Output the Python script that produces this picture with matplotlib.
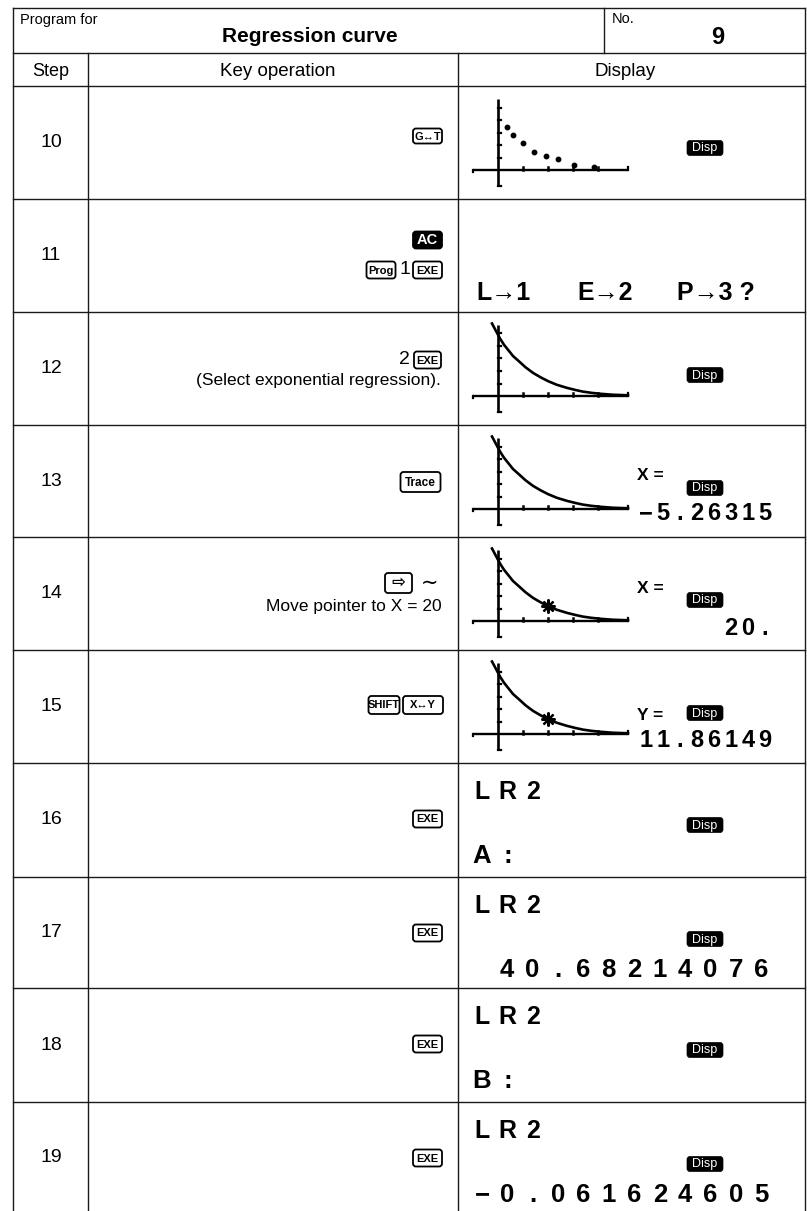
import matplotlib.pyplot as plt
from matplotlib.patches import FancyBboxPatch

plt.rcParams['font.family'] = ['Liberation Sans', 'DejaVu Sans']

W, H = 807, 1211

steps = ['10', '11', '12', '13', '14', '15', '16', '17', '18', '19']
row_edges = [86, 199, 312, 425, 537, 650, 763, 877, 988, 1102, 1215]

# step 10: data points on the screen (graph units, 10 per tick)
dot_x = [3.6, 6.0, 10.0, 14.4, 19.2, 24.0, 30.4, 38.4]
dot_y = [34.4, 28.0, 21.6, 14.4, 11.2, 8.8, 4.0, 2.4]
# exponential regression curve as drawn on the screen
curve_x = [-2.4, -0.8, 0.8, 2.4, 4.0, 6.0, 8.8, 11.0, 14.0, 17.0, 20.0,
           23.5, 27.6, 31.0, 34.0, 37.5, 40.8, 46.0, 52.0]
curve_y = [58.0, 52.0, 46.0, 41.0, 37.0, 32.0, 27.0, 23.0, 18.5, 15.0, 11.9,
           9.0, 6.5, 4.8, 3.5, 2.5, 1.8, 1.0, 0.6]
trace_x, trace_y = 20, 11.86149
x_ticks = [10, 20, 30, 40]
y_ticks = [10, 20, 30, 40, 50]

menu = ['L→1', 'E→2', 'P→3 ?']
trace_vals = ['−5.26315', '20.', '11.86149']
lr_vals = ['A:', '40.68214076', 'B:', '−0.061624605']

fig = plt.figure(figsize=(W / 100, H / 100), dpi=100)
ax = fig.add_axes([0, 0, 1, 1])
ax.set_xlim(0, W)
ax.set_ylim(H, 0)
ax.axis('off')

lc = '#1a1a1a'
lw = 1.0
L, R = 13, 805
ax.plot([L, R], [8, 8], color=lc, lw=lw)
ax.plot([L, L], [8, H], color=lc, lw=lw)
ax.plot([R, R], [8, H], color=lc, lw=lw)
for y in [53] + row_edges[:-1]:
    ax.plot([L, R], [y, y], color=lc, lw=lw)
ax.plot([88, 88], [53, H], color=lc, lw=lw)
ax.plot([458, 458], [53, H], color=lc, lw=lw)
ax.plot([604, 604], [8, 53], color=lc, lw=lw)

ax.text(20, 20, 'Program for', fontsize=10.5, va='center')
ax.text(310, 36, 'Regression curve', fontsize=15, fontweight='bold', ha='center', va='center')
ax.text(612, 19, 'No.', fontsize=10.5, va='center')
ax.text(718, 37, '9', fontsize=17, fontweight='bold', ha='center', va='center')
ax.text(51, 71, 'Step', fontsize=13, ha='center', va='center')
ax.text(278, 71, 'Key operation', fontsize=13.5, ha='center', va='center')
ax.text(625, 71, 'Display', fontsize=13.5, ha='center', va='center')


def key(xc, yc, w, h, label, filled=False, size=8):
    box = FancyBboxPatch((xc - w / 2, yc - h / 2), w, h,
                         boxstyle='round,pad=0,rounding_size=3',
                         fc='black' if filled else 'white', ec='black', lw=1.3)
    ax.add_patch(box)
    ax.text(xc, yc + 0.5, label, fontsize=size, fontweight='bold', ha='center', va='center',
            color='white' if filled else 'black')


def disp(yc):
    box = FancyBboxPatch((687, yc - 7.5), 36, 15, boxstyle='round,pad=0,rounding_size=3',
                         fc='black', ec='black', lw=0.5)
    ax.add_patch(box)
    ax.text(705, yc + 0.5, 'Disp', fontsize=9, color='white', ha='center', va='center')


def lcd(x0, base, s, pitch, size=17):
    for i, ch in enumerate(s):
        ax.text(x0 + i * pitch, base, ch, fontsize=size, fontweight='bold',
                ha='center', va='baseline')


def screen(top, dots=False, star=False):
    g = fig.add_axes([465 / W, 1 - (top + 104) / H, 175 / W, 100 / H])
    g.set_xlim(-13.2, 56.8)
    g.set_ylim(-16, 64)
    g.axis('off')
    g.plot([-10, 52], [0, 0], color='black', lw=1.7, solid_capstyle='butt')
    g.plot([0, 0], [-13, 57], color='black', lw=1.9, solid_capstyle='butt')
    for yv in y_ticks:
        g.plot([0, 1.3], [yv, yv], color='black', lw=1.6)
    for xv in x_ticks:
        g.plot([xv, xv], [0, 2.2], color='black', lw=1.8)
    g.plot([52, 52], [0, 2.2], color='black', lw=1.6)
    g.plot([-10, -10], [0, -1.5], color='black', lw=1.6)
    g.plot([0, 1.3], [-13, -13], color='black', lw=1.6)
    if dots:
        g.plot(dot_x, dot_y, 'o', color='black', ms=3.2)
    else:
        g.plot(curve_x, curve_y, color='black', lw=1.9, solid_joinstyle='round')
    if star:
        g.plot([trace_x], [trace_y], marker=(8, 2, 0), color='black', ms=10, mew=1.6)


for i, s in enumerate(steps):
    top, bot = row_edges[i], row_edges[i + 1]
    ax.text(51, (top + min(bot, 1213)) / 2, s, fontsize=14, ha='center', va='center')

# key operations
T = row_edges
key(427.5, T[0] + 50, 29, 15, 'G↔T')
key(427.5, T[1] + 41, 29, 17, 'AC', filled=True, size=10.5)
key(381, T[1] + 71, 29, 17, 'Prog')
ax.text(405, T[1] + 71, '1', fontsize=14, ha='center', va='center')
key(427.5, T[1] + 71, 29, 17, 'EXE')
ax.text(410, T[2] + 48, '2', fontsize=14, ha='right', va='center')
key(427.5, T[2] + 48, 27, 17, 'EXE')
ax.text(441, T[2] + 69, '(Select exponential regression).', fontsize=12.5, ha='right', va='center')
key(420.5, T[3] + 57, 40, 20, 'Trace', size=8.5)
key(398.5, T[4] + 46, 27, 20, '⇨', size=12)
ax.text(430, T[4] + 46, '∼', fontsize=15, ha='center', va='center')
ax.text(442, T[4] + 70, 'Move pointer to X = 20', fontsize=12.5, ha='right', va='center')
key(384, T[5] + 55, 31, 18, 'SHIFT')
key(423, T[5] + 55, 40, 18, 'X↔Y')
for r in range(6, 10):
    key(427.5, T[r] + 56, 29, 17, 'EXE')

# display column
screen(T[0], dots=True)
disp(T[0] + 62)
for x0, s in zip([476, 577, 677], menu):
    ax.text(x0, T[1] + 101, s, fontsize=18, fontweight='bold', ha='left', va='baseline')
screen(T[2])
disp(T[2] + 63)
for r, lab, lab_y, val, base in [(3, 'X =', 55, trace_vals[0], 95),
                                 (4, 'X =', 56, trace_vals[1], 98),
                                 (5, 'Y =', 70, trace_vals[2], 97)]:
    screen(T[r], star=(r > 3))
    ax.text(637, T[r] + lab_y, lab, fontsize=12.5, fontweight='bold', ha='left', va='baseline')
    disp(T[r] + 63)
    lcd(765 - (len(val) - 1) * 17, T[r] + base, val, 17, size=17)
for k, r in enumerate(range(6, 10)):
    lcd(482, T[r] + 36, 'LR2', 25.5, size=18)
    disp(T[r] + 62)
    val = lr_vals[k]
    x0 = 507 if val.startswith('4') else 482
    lcd(x0, T[r] + 100, val, 25.4, size=18.5)

fig.savefig('out.png', dpi=100)
